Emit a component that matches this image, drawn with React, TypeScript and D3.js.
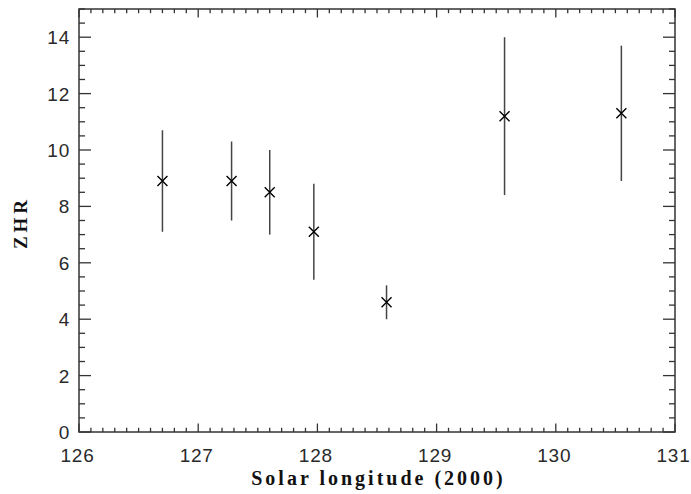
import React from "react";
import * as d3 from "d3";

const solarLong = [126.7, 127.28, 127.6, 127.97, 128.58, 129.57, 130.55];
const zhr = [8.9, 8.9, 8.5, 7.1, 4.6, 11.2, 11.3];
const zhrHigh = [10.7, 10.3, 10.0, 8.8, 5.2, 14.0, 13.7];
const zhrLow = [7.1, 7.5, 7.0, 5.4, 4.0, 8.4, 8.9];
const xTicks = [126, 127, 128, 129, 130, 131];
const yTicks = [0, 2, 4, 6, 8, 10, 12, 14];

const W = 691, H = 494;
const L = 79, R = 675, T = 9, B = 432;

export default function App() {
  const x = d3.scaleLinear().domain([126, 131]).range([L, R]);
  const y = d3.scaleLinear().domain([0, 15]).range([B, T]);
  const xMinor = d3.range(126, 131.001, 0.1);
  const yMinor = d3.range(0, 15.001, 0.5);
  const xMaj = 8.5, xMin = 4.2, yMaj = 12, yMin = 6;
  const axisColor = "#333";
  const tickFont = "'Liberation Sans', Arial, sans-serif";
  const titleFont = "'Liberation Serif', 'DejaVu Serif', serif";
  const isMajorX = (v: number) => Math.abs(v - Math.round(v)) < 1e-6;
  const isMajorY = (v: number) => Math.abs(v / 2 - Math.round(v / 2)) < 1e-6;
  return (
    <svg width={W} height={H} style={{ position: "absolute", left: 0, top: 0, background: "#fff" }}>
      <rect x={L} y={T} width={R - L} height={B - T} fill="none" stroke={axisColor} strokeWidth={1.5} />
      {xMinor.map((v, i) => {
        const len = isMajorX(v) ? xMaj : xMin;
        const xp = x(v);
        return (
          <g key={"xt" + i}>
            <line x1={xp} x2={xp} y1={B} y2={B - len} stroke={axisColor} strokeWidth={1.3} />
            <line x1={xp} x2={xp} y1={T} y2={T + len} stroke={axisColor} strokeWidth={1.3} />
          </g>
        );
      })}
      {yMinor.map((v, i) => {
        const len = isMajorY(v) ? yMaj : yMin;
        const yp = y(v);
        return (
          <g key={"yt" + i}>
            <line x1={L} x2={L + len} y1={yp} y2={yp} stroke={axisColor} strokeWidth={1.3} />
            <line x1={R} x2={R - len} y1={yp} y2={yp} stroke={axisColor} strokeWidth={1.3} />
          </g>
        );
      })}
      {xTicks.map((v) => (
        <text key={"xl" + v} x={x(v) - 1.5} y={462} textAnchor="middle" fontFamily={tickFont} fontSize={19} letterSpacing={0.8} fill="#2a2a2a">
          {v}
        </text>
      ))}
      {yTicks.map((v) => (
        <text key={"yl" + v} x={70} y={y(v) + 7} textAnchor="end" fontFamily={tickFont} fontSize={19} letterSpacing={0.8} fill="#2a2a2a">
          {v}
        </text>
      ))}
      <text x={(L + R) / 2 + 1.5} y={485} textAnchor="middle" fontFamily={titleFont} fontWeight="bold" fontSize={20} letterSpacing={3} fill="#111">
        Solar longitude (2000)
      </text>
      <text transform={`translate(27, ${(T + B) / 2 + 2}) rotate(-90)`} textAnchor="middle" fontFamily={titleFont} fontWeight="bold" fontSize={19} letterSpacing={4} fill="#111">
        ZHR
      </text>
      {solarLong.map((v, i) => (
        <line key={"eb" + i} x1={x(v)} x2={x(v)} y1={y(zhrHigh[i])} y2={y(zhrLow[i])} stroke="#444" strokeWidth={1.5} />
      ))}
      {solarLong.map((v, i) => {
        const cx = x(v), cy = y(zhr[i]), s = 5;
        return (
          <path key={"pt" + i} d={`M${cx - s},${cy - s}L${cx + s},${cy + s}M${cx - s},${cy + s}L${cx + s},${cy - s}`} stroke="#000" strokeWidth={1.4} fill="none" />
        );
      })}
    </svg>
  );
}
